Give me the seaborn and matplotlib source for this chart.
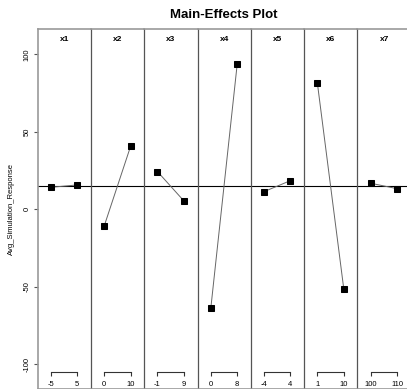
import numpy as np
import pandas as pd
import matplotlib
matplotlib.use("Agg")
import matplotlib.pyplot as plt
import seaborn as sns

# --- data ---
factors = ['x1', 'x2', 'x3', 'x4', 'x5', 'x6', 'x7']
low_labels = ['-5', '0', '-1', '0', '-4', '1', '100']
high_labels = ['5', '10', '9', '8', '4', '10', '110']
low_resp = [14.2, -10.8, 24.3, -63.9, 11.4, 81.3, 16.8]
high_resp = [15.7, 40.6, 5.4, 93.5, 18.5, -51.4, 13.3]
grand_mean = 14.9
y_ticks = [-100, -50, 0, 50, 100]

rows = []
for i, f in enumerate(factors):
    rows.append({'factor': f, 'level': 0, 'resp': low_resp[i]})
    rows.append({'factor': f, 'level': 1, 'resp': high_resp[i]})
df = pd.DataFrame(rows)

sns.set_style('white')
plt.rcParams['font.family'] = ['Liberation Sans', 'DejaVu Sans']
plt.rcParams['text.color'] = 'black'
plt.rcParams['axes.labelcolor'] = 'black'
plt.rcParams['xtick.color'] = 'black'
plt.rcParams['ytick.color'] = 'black'

W, H = 407, 389
fig = plt.figure(figsize=(W / 100, H / 100), dpi=100)

left_px, top_px, bottom_px = 37.7, 29.3, 388.5
panel_w = 53.3
ylim = (-115.6, 116.1)
bracket_y = -105

for i, f in enumerate(factors):
    x0 = left_px + i * panel_w
    ax = fig.add_axes([x0 / W, (H - bottom_px) / H, panel_w / W,
                       (bottom_px - top_px) / H])
    ax.set_facecolor('none')
    sub = df[df['factor'] == f]
    ax.axhline(grand_mean, color='black', lw=0.8, zorder=1)
    sns.lineplot(data=sub, x='level', y='resp', ax=ax, color='#666666',
                 lw=0.7, marker='s', markersize=4.2, markerfacecolor='black',
                 markeredgecolor='black', zorder=3)
    ax.set_xlim(-0.5, 1.52)
    ax.set_ylim(*ylim)
    ax.set_xlabel('')
    ax.set_ylabel('')

    # low/high bracket drawn as an inner axis
    ax.spines['bottom'].set_position(('data', bracket_y))
    ax.spines['bottom'].set_bounds(0, 1)
    ax.spines['bottom'].set_color('#333333')
    ax.spines['bottom'].set_linewidth(0.8)
    ax.set_xticks([0, 1])
    ax.set_xticklabels([low_labels[i], high_labels[i]], fontsize=5.5)
    ax.tick_params(axis='x', direction='out', length=3, width=0.8,
                   color='#333333', pad=3.5, bottom=True)

    ax.spines['top'].set_color('#999999')
    ax.spines['top'].set_linewidth(1.2)
    ax.spines['right'].set_visible(False)
    if i == 0:
        ax.spines['left'].set_color('#999999')
        ax.spines['left'].set_linewidth(1.2)
        ax.set_yticks(y_ticks)
        ax.set_yticklabels([str(t) for t in y_ticks], fontsize=5.5,
                           rotation=90, va='center')
        ax.tick_params(axis='y', direction='out', length=3, width=0.8,
                       color='#555555', pad=2, left=True)
        ax.set_ylabel('Avg_Simulation_Response', fontsize=5.5, labelpad=6)
    else:
        # panel divider
        ax.spines['left'].set_color('#555555')
        ax.spines['left'].set_linewidth(0.9)
        ax.set_yticks([])

    ax.text(0.5, 1 - 10 / (bottom_px - top_px), f, transform=ax.transAxes,
            ha='center', va='center', fontsize=6, fontweight='bold')

# bottom border of the whole panel strip
fig.add_artist(plt.Line2D([left_px / W, 1], [(H - bottom_px) / H] * 2,
                          color='#999999', lw=1.2))

fig.text((left_px + 7 * panel_w / 2) / W, 1 - 15 / H, 'Main-Effects Plot',
         ha='center', va='center', fontsize=9.5, fontweight='bold')

fig.savefig('out.png', dpi=100)
